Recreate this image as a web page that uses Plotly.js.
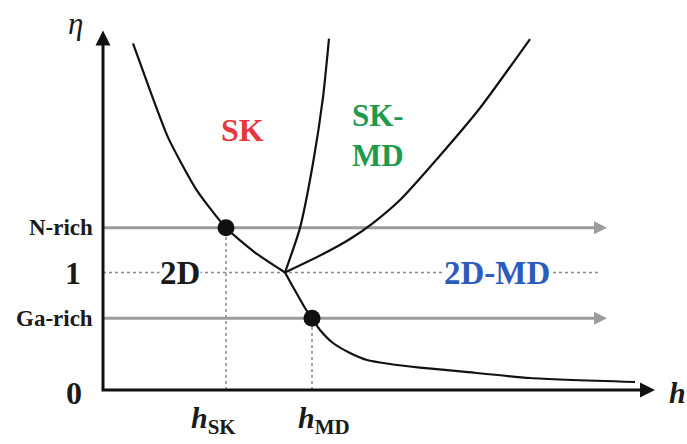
<!DOCTYPE html>
<html><head><meta charset="utf-8">
<script src="https://cdn.plot.ly/plotly-3.0.1.min.js"></script>
<style>html,body{margin:0;padding:0;background:#fff;}#chart{width:687px;height:444px;}</style>
</head><body><div id="chart"></div>
<script>
// Growth-mode regime boundaries: h (layer thickness) vs eta (N/Ga flux ratio), schematic units
const skBoundaryH   = [0.30, 0.47, 0.65, 0.93, 1.23, 1.52, 1.82];
const skBoundaryEta = [2.95, 2.55, 2.15, 1.71, 1.38, 1.17, 1.00];
const mdBoundaryH   = [1.82, 1.90, 2.02, 2.09, 2.17, 2.30, 2.47, 2.64, 2.87, 3.17, 3.60, 4.27, 5.32];
const mdBoundaryEta = [1.00, 0.877, 0.698, 0.61, 0.511, 0.400, 0.315, 0.255, 0.221, 0.191, 0.156, 0.102, 0.068];
const skMdLeftH     = [1.82, 1.97, 2.10, 2.20, 2.26];
const skMdLeftEta   = [1.00, 1.38, 1.93, 2.49, 2.99];
const skMdRightH    = [1.82, 2.20, 2.47, 2.70, 2.97, 3.34, 3.77, 4.27];
const skMdRightEta  = [1.00, 1.157, 1.285, 1.421, 1.617, 1.966, 2.400, 2.987];

const etaNRich = 1.38, etaStoich = 1.00, etaGaRich = 0.61;
const hSK = 1.23, hMD = 2.09;
const hAxisEnd = 5.52, etaAxisEnd = 3.06;
const fluxArrowEnd = 5.04, stoichLineEnd = 4.95;

const serif = '"Liberation Serif", "Times New Roman", serif';
const ink = '#1a1a1a', grey = '#9c9c9c', dotGrey = '#8a8a8a';

const traces = [];
// flux lines (grey arrows)
[etaNRich, etaGaRich].forEach(e => traces.push({
  x: [0, fluxArrowEnd - 0.1], y: [e, e], mode: 'lines',
  line: {color: grey, width: 3}, hoverinfo: 'skip'
}));
traces.push({
  x: [fluxArrowEnd, fluxArrowEnd], y: [etaNRich, etaGaRich], mode: 'markers',
  marker: {symbol: 'arrow-right', size: 13, color: grey, line: {width: 0}}, hoverinfo: 'skip'
});
// dotted guides
traces.push({x: [0, stoichLineEnd], y: [etaStoich, etaStoich], mode: 'lines',
  line: {color: dotGrey, width: 1.5, dash: 'dot'}, hoverinfo: 'skip'});
traces.push({x: [hSK, hSK], y: [0, etaNRich], mode: 'lines',
  line: {color: dotGrey, width: 1.5, dash: 'dot'}, hoverinfo: 'skip'});
traces.push({x: [hMD, hMD], y: [0, etaGaRich], mode: 'lines',
  line: {color: dotGrey, width: 1.5, dash: 'dot'}, hoverinfo: 'skip'});
// boundaries
[[skBoundaryH, skBoundaryEta], [mdBoundaryH, mdBoundaryEta],
 [skMdLeftH, skMdLeftEta], [skMdRightH, skMdRightEta]].forEach(([x, y]) => traces.push({
  x: x, y: y, mode: 'lines', line: {color: '#111', width: 2.2, shape: 'spline', smoothing: 0.6},
  hoverinfo: 'skip'
}));
// critical points
traces.push({x: [hSK, hMD], y: [etaNRich, etaGaRich], mode: 'markers',
  marker: {size: 17, color: '#111', line: {width: 0}}, hoverinfo: 'skip'});
// axes
traces.push({x: [0, 0, hAxisEnd - 0.07], y: [etaAxisEnd - 0.06, 0, 0], mode: 'lines',
  line: {color: '#111', width: 3}, hoverinfo: 'skip'});
traces.push({x: [0, hAxisEnd], y: [etaAxisEnd, 0], mode: 'markers',
  marker: {symbol: ['arrow-up', 'arrow-right'], size: 15, color: '#111', line: {width: 0}},
  hoverinfo: 'skip'});

function lab(text, x, y, size, color, extra) {
  return Object.assign({text: text, x: x, y: y, xref: 'x', yref: 'y', showarrow: false,
    font: {family: serif, size: size, color: color}}, extra || {});
}
const annotations = [
  lab('<i>η</i>', -0.28, 3.12, 31, ink),
  lab('<b>SK</b>', 1.39, 2.21, 32, '#e5383e'),
  lab('<b>SK-<br>MD</b>', 2.47, 2.17, 31, '#1d9a4e', {xanchor: 'left', align: 'left'}),
  lab('<b>2D</b>', 0.77, etaStoich, 33, ink, {bgcolor: '#ffffff', borderpad: 0}),
  lab('<b>2D-MD</b>', 3.94, etaStoich, 33, '#2c5bbd', {bgcolor: '#ffffff', borderpad: 0}),
  lab('<b>N-rich</b>', -0.08, etaNRich, 23, ink, {xanchor: 'right'}),
  lab('<b>Ga-rich</b>', -0.08, etaGaRich, 23, ink, {xanchor: 'right'}),
  lab('<b>1</b>', -0.30, etaStoich, 32, ink),
  lab('<b>0</b>', -0.29, 0, 32, ink, {yshift: -3}),
  lab('<b><i>h</i><sub>SK</sub></b>', hSK, 0, 30, ink, {xshift: -13, yshift: -30}),
  lab('<b><i>h</i><sub>MD</sub></b>', hMD, 0, 30, ink, {xshift: 12, yshift: -30}),
  lab('<b><i>h</i></b>', hAxisEnd + 0.12, 0, 30, ink, {xanchor: 'left', yshift: -2})
];

const layout = {
  width: 687, height: 444, margin: {l: 0, r: 0, t: 0, b: 0},
  paper_bgcolor: '#fff', plot_bgcolor: '#fff', showlegend: false,
  xaxis: {range: [-1.03, 5.84], visible: false, fixedrange: true},
  yaxis: {range: [-0.4596, 3.3191], visible: false, fixedrange: true},
  annotations: annotations
};
Plotly.newPlot('chart', traces, layout, {staticPlot: true, displayModeBar: false});
</script></body></html>
